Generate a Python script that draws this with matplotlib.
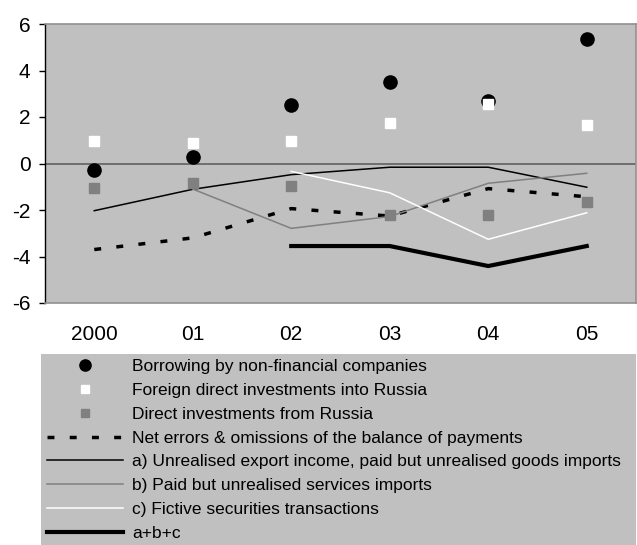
import numpy as np
import matplotlib
matplotlib.use("Agg")
import matplotlib.pyplot as plt
from matplotlib.patches import Rectangle

plt.rcParams['axes.unicode_minus'] = False
plt.rcParams['font.family'] = ['Liberation Sans', 'DejaVu Sans']

categories = ["2000", "01", "02", "03", "04", "05"]
nan = np.nan
borrowing = [-0.3, 0.3, 2.5, 3.5, 2.7, 5.35]
fdi_into = [0.95, 0.87, 0.95, 1.73, 2.56, 1.64]
di_from = [-1.05, -0.82, -0.97, -2.23, -2.23, -1.64]
net_errors = [-3.7, -3.2, -1.94, -2.26, -1.08, -1.43]
line_a = [-2.03, -1.11, -0.48, -0.16, -0.16, -1.02]
line_b = [nan, -1.1, -2.79, -2.28, -0.85, -0.42]
line_c = [nan, nan, -0.34, -1.26, -3.26, -2.12]
line_abc = [nan, nan, -3.55, -3.55, -4.41, -3.55]

labels = [
    "Borrowing by non-financial companies",
    "Foreign direct investments into Russia",
    "Direct investments from Russia",
    "Net errors & omissions of the balance of payments",
    "a) Unrealised export income, paid but unrealised goods imports",
    "b) Paid but unrealised services imports",
    "c) Fictive securities transactions",
    "a+b+c",
]

W, H = 637, 545
fig = plt.figure(figsize=(W / 100, H / 100), dpi=100)
ax = fig.add_axes([45 / W, 1 - 303 / H, 591 / W, 279 / H])
ax.set_facecolor('#C0C0C0')

x = np.arange(len(categories))
ax.axhline(0, color='#606060', lw=1.2, zorder=1)

h_net, = ax.plot(x, net_errors, color='black', lw=2.5, dashes=(2.0, 4.4), zorder=2)
h_a, = ax.plot(x, line_a, color='black', lw=1.1, zorder=2)
h_b, = ax.plot(x, line_b, color='#808080', lw=1.1, zorder=2)
h_c, = ax.plot(x, line_c, color='white', lw=1.1, zorder=2)
h_abc, = ax.plot(x, line_abc, color='black', lw=3.0, zorder=2)
h_bor, = ax.plot(x, borrowing, ls='none', marker='o', ms=9.5, color='black', zorder=3)
h_fdi, = ax.plot(x, fdi_into, ls='none', marker='s', ms=7.5, color='white', zorder=4)
h_di, = ax.plot(x, di_from, ls='none', marker='s', ms=7.5, color='#808080', zorder=3)

ax.set_xlim(-0.5, len(categories) - 0.5)
ax.set_ylim(-6, 6)
ax.set_yticks(np.arange(-6, 7, 2))
ax.set_yticklabels([str(v) for v in range(-6, 7, 2)])
ax.set_xticks(x)
ax.set_xticklabels(categories)
ax.tick_params(axis='y', length=4.5, width=1, color='black', pad=6, labelsize=15)
ax.tick_params(axis='x', length=0, pad=16, labelsize=15)
for s in ['top', 'right', 'bottom']:
    ax.spines[s].set_color('#909090')
    ax.spines[s].set_linewidth(1.2)
ax.spines['left'].set_color('black')
ax.spines['left'].set_linewidth(1)

# legend background
fig.add_artist(Rectangle((41 / W, 0), (636 - 41) / W, (545 - 354) / H,
                         transform=fig.transFigure, facecolor='#C0C0C0',
                         edgecolor='none', zorder=0))

handles = [h_bor, h_fdi, h_di, h_net, h_a, h_b, h_c, h_abc]
leg = fig.legend(handles, labels, loc='upper left',
                 bbox_to_anchor=(47 / W, 1 - 359 / H),
                 frameon=False, borderpad=0, borderaxespad=0,
                 handlelength=4.4, handletextpad=0.5, labelspacing=0.5,
                 markerscale=0.85,
                 prop={'family': ['Liberation Sans'], 'size': 12.5})

fig.savefig('out.png', dpi=100)
